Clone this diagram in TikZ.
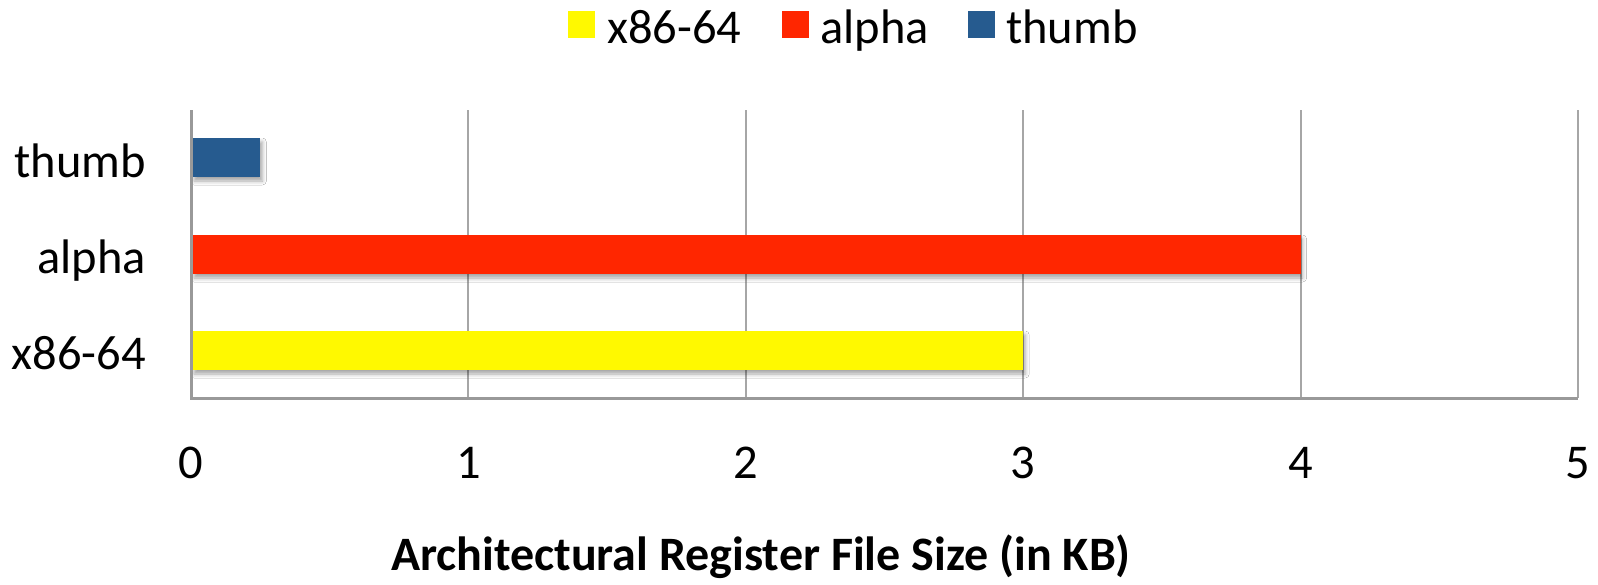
\documentclass[tikz,border=0pt]{standalone}
\usepackage{fontspec}
\setmainfont{Carlito}
\usetikzlibrary{shadows.blur}

\definecolor{barYellow}{HTML}{FFF900}
\definecolor{barRed}{HTML}{FF2600}
\definecolor{barBlue}{HTML}{265B8F}
\definecolor{axisGray}{HTML}{999999}
\definecolor{gridGray}{HTML}{A6A6A6}

\tikzset{
  lbl/.style={inner sep=0pt, font=\fontsize{48.5}{56}\selectfont},
  ttl/.style={inner sep=0pt, font=\fontsize{48}{56}\selectfont\bfseries},
  gridline/.style={draw=gridGray, line width=2pt},
  axisline/.style={draw=axisGray, line width=3pt},
  bar/.style={blur shadow={shadow xshift=2pt, shadow yshift=-4pt,
      shadow blur radius=4pt, shadow opacity=35}},
  keybox/.style={inner sep=0pt, minimum width=27pt, minimum height=27pt}
}

\begin{document}
\begin{tikzpicture}[x=1pt, y=-1pt]
  \useasboundingbox[fill=white] (0,0) rectangle (1598,584);

  % plot frame: origin, unit per KB, top edge
  \coordinate (o) at (191,398);
  \def\unit{277.4}

  % vertical grid lines at 1..5 KB
  \foreach \k in {1,...,5} {
    \coordinate (g\k) at (191+\k*\unit,110);
    \coordinate (b\k) at (191+\k*\unit,398);
    \draw[gridline] (g\k) -- (b\k);
  }

  % bars
  \fill[barBlue, bar]   (192,138) rectangle (191+0.25*\unit,177);
  \fill[barRed, bar]    (192,235) rectangle (191+4*\unit,274);
  \fill[barYellow, bar] (192,331) rectangle (191+3*\unit,370);

  % axes
  \coordinate (top) at (191,110);
  \draw[axisline] (top) -- (o) -- (b5);

  % category labels
  \node[lbl, anchor=base east] (cThumb) at (146,177) {thumb};
  \node[lbl, anchor=base east] (cAlpha) at (146,273) {alpha};
  \node[lbl, anchor=base east] (cX86)   at (146,369) {x86-64};

  % tick labels
  \node[lbl, anchor=base] (t0) at (191,478) {0};
  \foreach \k in {1,...,5}
    \node[lbl, anchor=base] (t\k) at (191+\k*\unit,478) {\k};

  % axis title
  \node[ttl, anchor=base] (title) at (761,570) {Architectural Register File Size (in KB)};

  % legend
  \node[keybox, fill=barYellow, anchor=north west] (kY) at (568,11) {};
  \node[lbl, anchor=base west] (lY) at (607,43) {x86-64};
  \node[keybox, fill=barRed, anchor=north west] (kR) at (782,11) {};
  \node[lbl, anchor=base west] (lR) at (820,43) {alpha};
  \node[keybox, fill=barBlue, anchor=north west] (kB) at (968,11) {};
  \node[lbl, anchor=base west] (lB) at (1006,43) {thumb};
\end{tikzpicture}
\end{document}
